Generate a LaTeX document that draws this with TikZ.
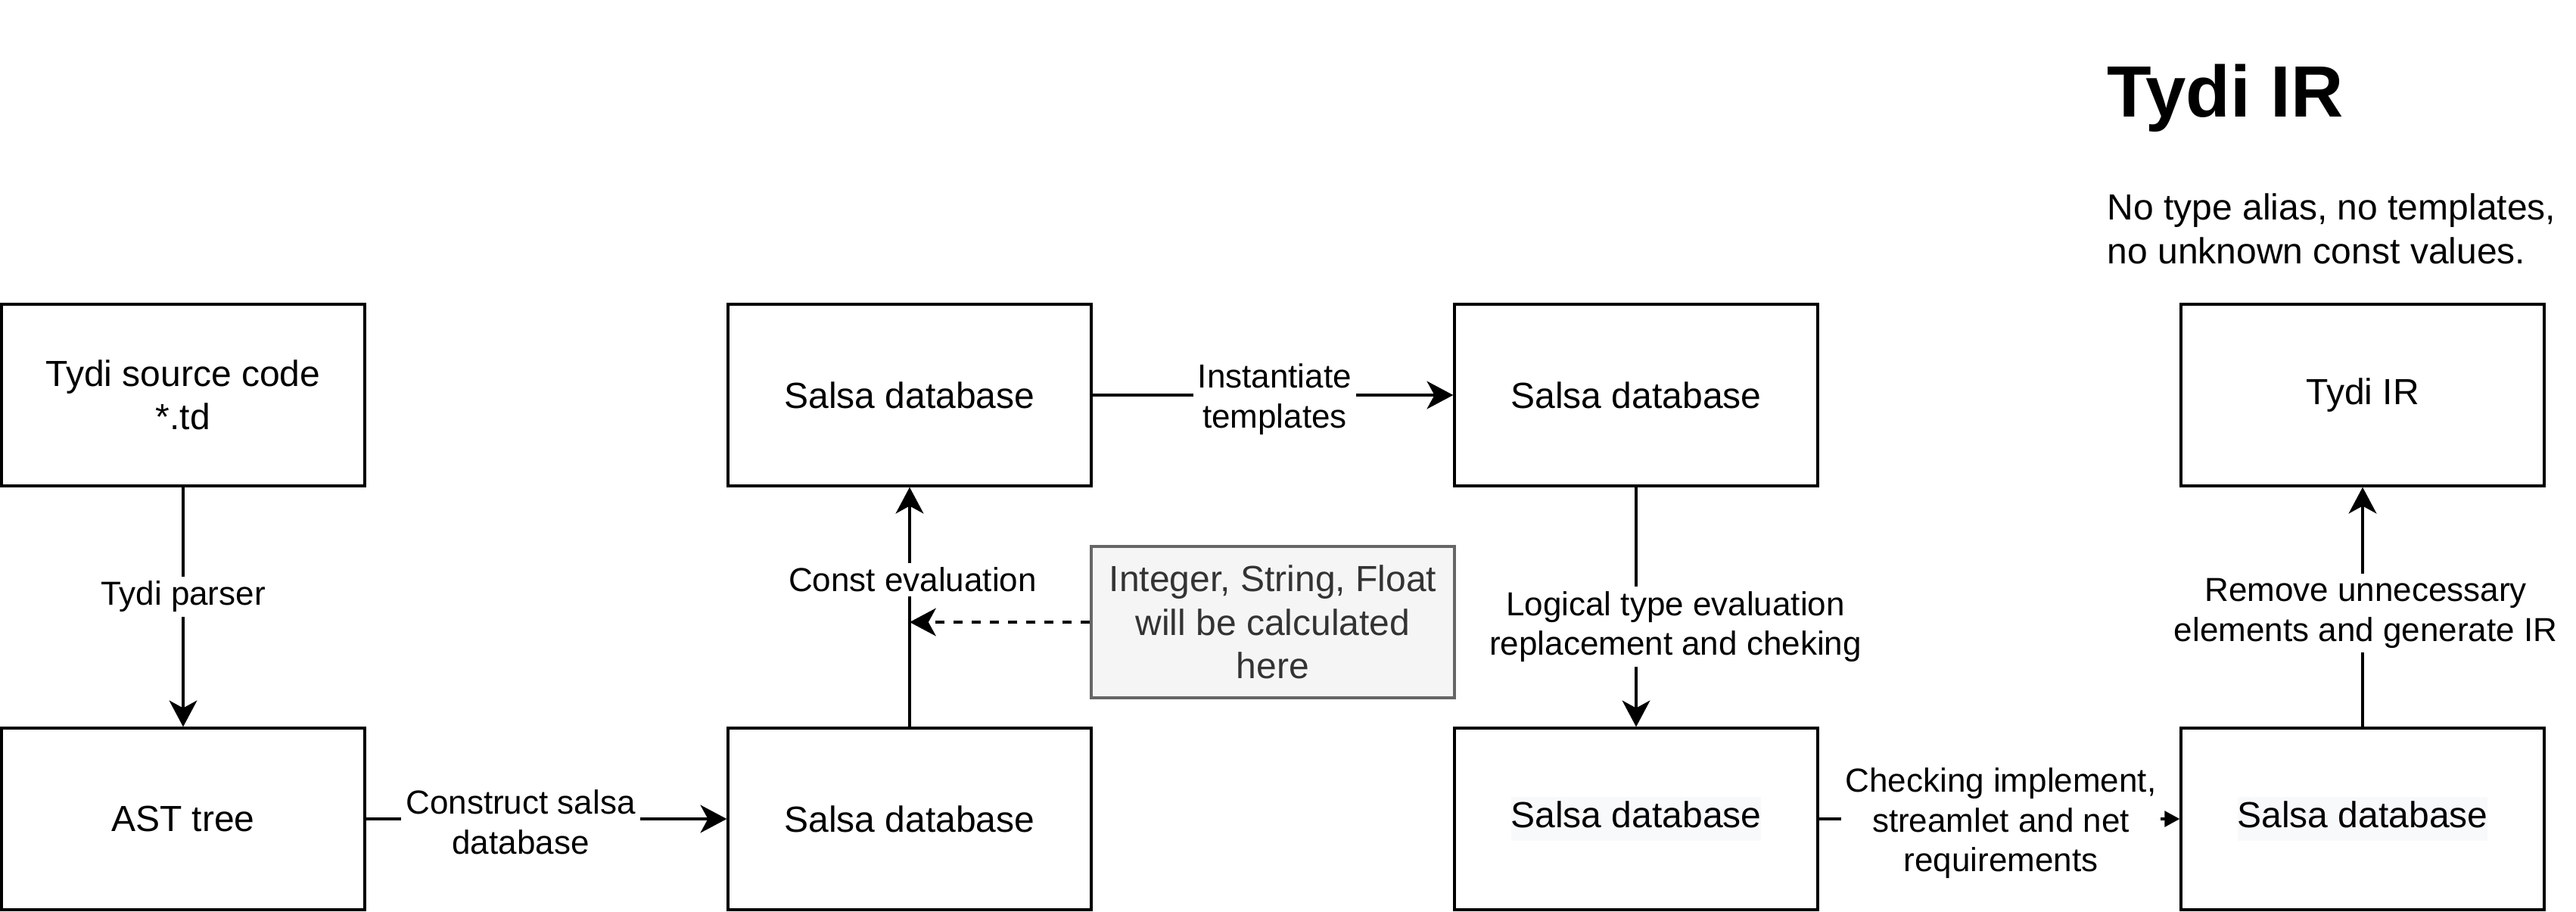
\documentclass[tikz,border=0pt]{standalone}
\usepackage{fontspec}
\setmainfont{Liberation Sans}
\usetikzlibrary{arrows.meta}
\definecolor{greyfill}{HTML}{F5F5F5}
\definecolor{greydraw}{HTML}{666666}
\definecolor{greytext}{HTML}{333333}
\definecolor{hlgray}{HTML}{F8F9FA}
\newcommand{\hlbg}[1]{{\setlength{\fboxsep}{0pt}\colorbox{hlgray}{\strut #1}}}
\begin{document}
\begin{tikzpicture}[x=1pt, y=-1pt,
  box/.style={draw, line width=0.85pt, minimum width=120pt, minimum height=60pt, inner sep=0pt, align=center, font=\fontsize{12}{14.4}\selectfont},
  greybox/.style={box, draw=greydraw, fill=greyfill, text=greytext, minimum height=50pt},
  lbl/.style={fill=white, inner sep=1.5pt, align=center, font=\fontsize{11}{13.2}\selectfont},
  flow/.style={draw, line width=0.85pt, -{Stealth[length=8.7pt,width=9.2pt,inset=2.5pt]}},
  blockflow/.style={draw, line width=0.85pt, -{Triangle[length=5pt,width=5.2pt]}}
]
\useasboundingbox (-0.5,-0.5) rectangle (850.5,300.5);

% boxes
\node[box] (src) at (60,130) {Tydi source code\\*.td};
\node[box] (ast) at (60,270) {AST tree};
\node[box] (s1) at (300,130) {Salsa database};
\node[box] (s2) at (300,270) {Salsa database};
\node[box] (s3) at (540,130) {Salsa database};
\node[box] (s4) at (540,270) {\hlbg{Salsa database}};
\node[box] (ir) at (780,130) {Tydi IR};
\node[box] (s5) at (780,270) {\hlbg{Salsa database}};
\node[greybox] (note) at (420,205) {Integer, String, Float\\will be calculated\\here};

\coordinate (hit) at (300,205);

% connectors
\draw[flow] (src) -- (ast);
\draw[flow] (ast) -- (s2);
\draw[flow] (s2) -- (s1);
\draw[flow, dash pattern=on 3pt off 3pt] (note.west) -- (hit);
\draw[flow] (s1) -- (s3);
\draw[flow] (s3) -- (s4);
\draw[blockflow] (s4) -- (s5);
\draw[flow] (s5) -- (ir);

% connector labels
\node[lbl] (l1) at (60,196.5) {Tydi parser};
\node[lbl] (l2) at (171.5,271) {Construct salsa\\database};
\node[lbl] (l3) at (301,191) {Const evaluation};
\node[lbl] (l4) at (420.6,131.3) {Instantiate\\templates};
\node[lbl] (l5) at (553,206.5) {Logical type evaluation\\replacement and cheking};
\node[lbl] (l6) at (660.5,271.4) {Checking implement,\\streamlet and net\\requirements};
\node[lbl] (l7) at (781,202) {Remove unnecessary\\elements and generate IR};

% heading
\node[anchor=base west, inner sep=0pt, font=\bfseries\fontsize{24}{28.8}\selectfont] (title) at (695.3,38.2) {Tydi IR};
\node[anchor=north west, inner sep=0pt, align=left, font=\fontsize{12}{14.4}\selectfont] (sub) at (695.5,63.3) {No type alias, no templates,\\no unknown const values.};
\end{tikzpicture}
\end{document}
